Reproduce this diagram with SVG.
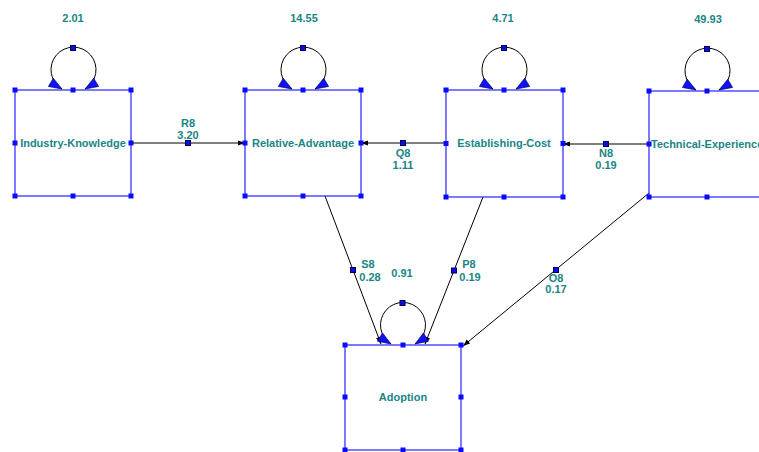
<svg xmlns="http://www.w3.org/2000/svg" width="759" height="452" viewBox="0 0 759 452">
<style>
text{font-family:"Liberation Sans",Arial,sans-serif;font-weight:bold;font-size:11px;fill:#1a8585;text-anchor:middle}
.box{fill:#fff;stroke:#2323ff;stroke-width:1.2}
.h{fill:#0a0aff}
.eh{fill:#0a0aff;stroke:#000040;stroke-width:1}
.edge{stroke:#000;stroke-width:1;fill:none;marker-end:url(#ea)}
.loop{stroke:#000;stroke-width:1;fill:none;marker-start:url(#la);marker-end:url(#la)}
</style>
<defs>
<marker id="ea" markerUnits="userSpaceOnUse" markerWidth="12" markerHeight="8" viewBox="-8 -4 9 8" refX="0" refY="0" orient="auto">
<path d="M0,0 L-7,-2.6 L-7,2.6 Z" fill="#000"/>
</marker>
<marker id="la" markerUnits="userSpaceOnUse" markerWidth="16" markerHeight="12" viewBox="-14 -6 15 12" refX="0" refY="0" orient="auto-start-reverse">
<path d="M0,0 L-13,-4.8 L-13,4.8 Z" fill="#1010ff" stroke="#000050" stroke-width="0.6"/>
</marker>
</defs>
<g id="connectors">
<path class="edge" d="M131,143 L245,143"/>
<rect class="eh" x="185.5" y="140.5" width="5" height="5"/>
<path class="edge" d="M446,143 L361,143"/>
<rect class="eh" x="400.5" y="140.5" width="5" height="5"/>
<path class="edge" d="M649,144 L563,144"/>
<rect class="eh" x="603.5" y="141.5" width="5" height="5"/>
<path class="edge" d="M325,196 L381,344"/>
<rect class="eh" x="350.5" y="267.5" width="5" height="5"/>
<path class="edge" d="M483,197 L425,344"/>
<rect class="eh" x="451.5" y="268" width="5" height="5"/>
<path class="edge" d="M649,193 L463,346"/>
<rect class="eh" x="553.5" y="267.5" width="5" height="5"/>
<text x="188" y="127">R8</text><text x="188" y="139">3.20</text>
<text x="403" y="157">Q8</text><text x="403" y="169">1.11</text>
<text x="606" y="157">N8</text><text x="606" y="169">0.19</text>
<text x="368" y="268">S8</text><text x="370" y="281">0.28</text>
<text x="469" y="268">P8</text><text x="470" y="281">0.19</text>
<text x="556" y="282">O8</text><text x="556" y="293">0.17</text>
</g>
<g id="industry-knowledge">
<path class="loop" d="M62,89 A22.5,22.5 0 1 1 85,89"/>
<rect class="eh" x="70.5" y="45.5" width="5" height="5"/>
<text x="73" y="22">2.01</text>
<rect class="box" x="15" y="90" width="116" height="106"/>
<text x="73" y="147">Industry-Knowledge</text>
<rect class="h" x="12.5" y="87.5" width="5" height="5"/><rect class="h" x="70.5" y="87.5" width="5" height="5"/><rect class="h" x="128.5" y="87.5" width="5" height="5"/>
<rect class="h" x="12.5" y="140.5" width="5" height="5"/><rect class="h" x="128.5" y="140.5" width="5" height="5"/>
<rect class="h" x="12.5" y="193.5" width="5" height="5"/><rect class="h" x="70.5" y="193.5" width="5" height="5"/><rect class="h" x="128.5" y="193.5" width="5" height="5"/>
</g>
<g id="relative-advantage">
<path class="loop" d="M292,89 A22.5,22.5 0 1 1 315,89"/>
<rect class="eh" x="300.5" y="45.5" width="5" height="5"/>
<text x="304" y="22">14.55</text>
<rect class="box" x="245" y="90" width="116" height="106"/>
<text x="303" y="147">Relative-Advantage</text>
<rect class="h" x="242.5" y="87.5" width="5" height="5"/><rect class="h" x="300.5" y="87.5" width="5" height="5"/><rect class="h" x="358.5" y="87.5" width="5" height="5"/>
<rect class="h" x="242.5" y="140.5" width="5" height="5"/><rect class="h" x="358.5" y="140.5" width="5" height="5"/>
<rect class="h" x="242.5" y="193.5" width="5" height="5"/><rect class="h" x="300.5" y="193.5" width="5" height="5"/><rect class="h" x="358.5" y="193.5" width="5" height="5"/>
</g>
<g id="establishing-cost">
<path class="loop" d="M493,89 A22.5,22.5 0 1 1 516,89"/>
<rect class="eh" x="501.5" y="45.5" width="5" height="5"/>
<text x="503" y="22">4.71</text>
<rect class="box" x="446" y="90" width="117" height="107"/>
<text x="504" y="147">Establishing-Cost</text>
<rect class="h" x="443.5" y="87.5" width="5" height="5"/><rect class="h" x="501.5" y="87.5" width="5" height="5"/><rect class="h" x="560.5" y="87.5" width="5" height="5"/>
<rect class="h" x="443.5" y="141" width="5" height="5"/><rect class="h" x="560.5" y="141" width="5" height="5"/>
<rect class="h" x="443.5" y="194.5" width="5" height="5"/><rect class="h" x="501.5" y="194.5" width="5" height="5"/><rect class="h" x="560.5" y="194.5" width="5" height="5"/>
</g>
<g id="technical-experience">
<path class="loop" d="M696,90 A22.5,22.5 0 1 1 719,90"/>
<rect class="eh" x="704.5" y="46.5" width="5" height="5"/>
<text x="708" y="23">49.93</text>
<rect class="box" x="649" y="91" width="116" height="106"/>
<text x="651" y="148" style="text-anchor:start">Technical-Experience</text>
<rect class="h" x="646.5" y="88.5" width="5" height="5"/><rect class="h" x="704.5" y="88.5" width="5" height="5"/>
<rect class="h" x="646.5" y="141.5" width="5" height="5"/>
<rect class="h" x="646.5" y="194.5" width="5" height="5"/><rect class="h" x="704.5" y="194.5" width="5" height="5"/>
</g>
<g id="adoption">
<path class="loop" d="M391,344 A22.5,22.5 0 1 1 415,344"/>
<rect class="eh" x="400" y="300.5" width="5" height="5"/>
<text x="402" y="277">0.91</text>
<rect class="box" x="345" y="345" width="116" height="105"/>
<text x="403" y="401">Adoption</text>
<rect class="h" x="342.5" y="342.5" width="5" height="5"/><rect class="h" x="400.5" y="342.5" width="5" height="5"/><rect class="h" x="458.5" y="342.5" width="5" height="5"/>
<rect class="h" x="342.5" y="394.5" width="5" height="5"/><rect class="h" x="458.5" y="394.5" width="5" height="5"/>
<rect class="h" x="342.5" y="447.5" width="5" height="5"/><rect class="h" x="400.5" y="447.5" width="5" height="5"/><rect class="h" x="458.5" y="447.5" width="5" height="5"/>
</g>
</svg>
